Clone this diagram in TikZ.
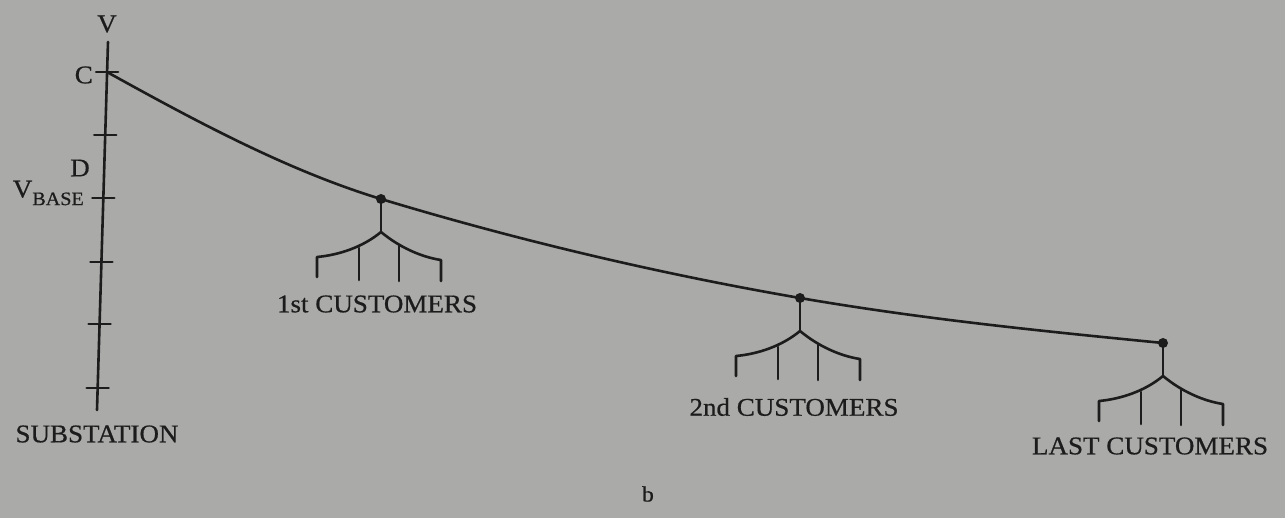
\documentclass[tikz,border=0pt]{standalone}
\usepackage{fontspec}
\setmainfont{Liberation Serif}[FakeStretch=1.06,FakeBold=0.6]
\usetikzlibrary{calc}
\definecolor{paper}{RGB}{170,170,168}
\definecolor{ink}{RGB}{28,28,28}
\tikzset{
  line/.style={draw=ink, line width=2.6pt, line cap=round, line join=round},
  lbl/.style={text=ink, inner sep=0pt, font=\fontsize{25.5}{30}\selectfont},
  dotnode/.style={circle, fill=ink, inner sep=0pt, minimum size=10pt},
  cust/.pic={
    \draw[line] (0,0) -- (0,33);
    \draw[line] (-64,78) -- (-64,58) .. controls (-42,56) and (-18,48) .. (0,33)
                .. controls (18,48) and (40,58) .. (60,61) -- (60,82);
    \draw[line] (-22,49) -- (-22,81);
    \draw[line] (18,47) -- (18,82);
  }
}
\begin{document}
\begin{tikzpicture}[x=1pt,y=-1pt]
\fill[paper] (0,0) rectangle (1285,518);
\useasboundingbox (0,0) rectangle (1285,518);
% axis
\coordinate (top) at (108,42);
\coordinate (bot) at (97,410);
\draw[line] (top) -- (bot);
\foreach \yy in {72,135,198,262,324,388}{
  \draw[line] ($(top)!{(\yy-42)/368}!(bot)$) ++(-11,0) -- ++(22,0);
}
\coordinate (C) at (107,72);
% labels on axis
\node[lbl] (V) at (107,24) {V};
\node[lbl, anchor=east] (Clab) at (93,75) {C};
\node[lbl] (Dlab) at (80,168) {D};
\node[lbl, anchor=east] (Vb) at (84,193) {V\raisebox{-0.3em}{\fontsize{19}{20}\selectfont BASE}};
\node[lbl] (sub) at (97,434) {SUBSTATION};
% customer points
\node[dotnode] (d1) at (381,199) {};
\node[dotnode] (d2) at (800,298) {};
\node[dotnode] (d3) at (1163,343) {};
\draw[line] (C) .. controls +(92,51) and +(-92,-28) .. (d1.center)
  .. controls +(139,42) and +(-139,-24) .. (d2.center)
  .. controls +(122,21) and +(-122,-12) .. (d3.center);
\pic at (d1.center) {cust};
\pic at (d2.center) {cust};
\pic at (d3.center) {cust};
\node[lbl] (l1) at (377,304) {1st CUSTOMERS};
\node[lbl] (l2) at (794,407) {2nd CUSTOMERS};
\node[lbl] (l3) at (1150,446) {LAST CUSTOMERS};
\node[lbl, font=\fontsize{22}{26}\selectfont] (b) at (648,494) {b};
\end{tikzpicture}
\end{document}
